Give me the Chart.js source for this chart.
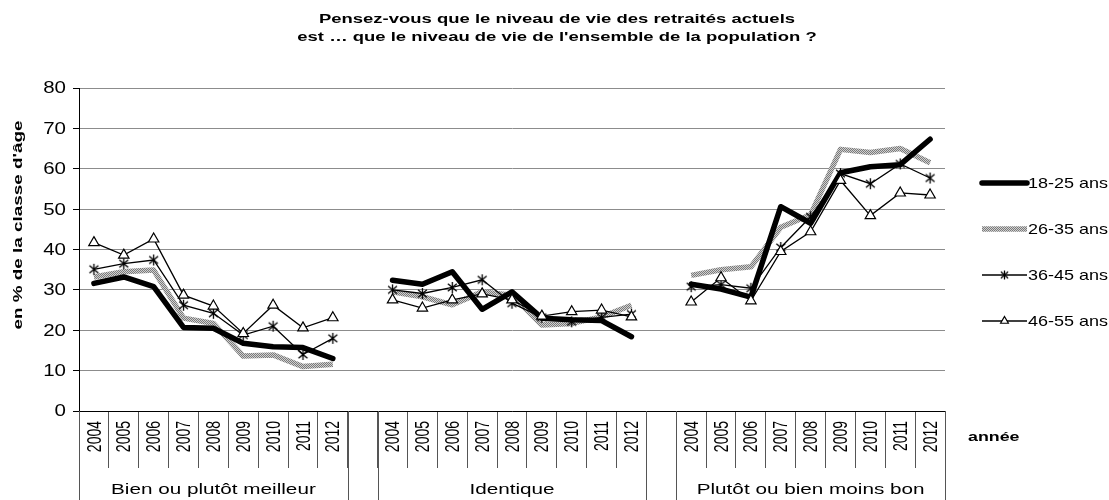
<!DOCTYPE html>
<html>
<head>
<meta charset="utf-8">
<script src="https://cdn.jsdelivr.net/npm/chart.js@4/dist/chart.umd.min.js"></script>
<style>
  html, body { margin: 0; padding: 0; background: #fff; }
  #wrap { width: 1109px; height: 500px; position: relative; }
</style>
</head>
<body>
<div id="wrap"><canvas id="chart"></canvas></div>
<script>
// Données
const years = ['2004', '2005', '2006', '2007', '2008', '2009', '2010', '2011', '2012'];
const groups = ['Bien ou plutôt meilleur', 'Identique', 'Plutôt ou bien moins bon'];
const seriesNames = ['18-25 ans', '26-35 ans', '36-45 ans', '46-55 ans'];

const a1825_meilleur = [31.6, 33.2, 30.8, 20.7, 20.5, 16.8, 15.9, 15.7, 13.0];
const a1825_identique = [32.4, 31.4, 34.5, 25.2, 29.5, 23.0, 22.6, 22.4, 18.4];
const a1825_moins = [31.4, 30.2, 28.2, 50.6, 46.5, 59.0, 60.5, 61.0, 67.3];

const a2635_meilleur = [33.2, 34.5, 34.9, 23.0, 21.7, 13.6, 13.9, 11.0, 11.6];
const a2635_identique = [29.5, 28.3, 26.3, 29.5, 28.7, 21.3, 21.7, 23.3, 26.2];
const a2635_moins = [33.6, 35.0, 35.7, 45.5, 48.6, 64.8, 64.0, 65.0, 61.5];

const a3645_meilleur = [35.1, 36.5, 37.4, 26.2, 24.2, 18.8, 21.0, 14.0, 18.0];
const a3645_identique = [30.0, 29.1, 30.6, 32.5, 26.7, 23.2, 22.1, 23.2, 24.0];
const a3645_moins = [30.8, 31.3, 30.4, 40.5, 48.1, 58.8, 56.3, 61.2, 57.7];

const a4655_meilleur = [41.7, 38.6, 42.6, 28.7, 26.0, 19.2, 26.2, 20.6, 23.1];
const a4655_identique = [27.5, 25.5, 27.5, 29.0, 27.5, 23.5, 24.6, 25.0, 23.3];
const a4655_moins = [27.0, 33.0, 27.3, 39.5, 44.4, 57.1, 48.4, 54.0, 53.5];

const yTicks = [0, 10, 20, 30, 40, 50, 60, 70, 80];

// Catégories : 3 groupes de 9 années séparés par une case vide
const labels = [...years, '', ...years, '', ...years];
function joinGroups(g1, g2, g3) {
  return [...g1, null, ...g2, null, ...g3];
}

// motif gris tramé pour la série 26-35 ans
function makePattern() {
  const c = document.createElement('canvas');
  c.width = 2; c.height = 2;
  const p = c.getContext('2d');
  p.fillStyle = '#d0d0d0';
  p.fillRect(0, 0, 2, 2);
  p.fillStyle = '#7a7a7a';
  p.fillRect(0, 0, 1, 1);
  p.fillRect(1, 1, 1, 1);
  return p.createPattern(c, 'repeat');
}
const greyPattern = makePattern();

// marqueur étoile façon Excel : croix + trait vertical
function makeStar(size) {
  const c = document.createElement('canvas');
  c.width = size; c.height = size;
  const p = c.getContext('2d');
  const m = size / 2, r = size / 2 - 1;
  p.strokeStyle = '#000';
  p.lineWidth = 1.3;
  p.beginPath();
  p.moveTo(m, m - r); p.lineTo(m, m + r);
  p.moveTo(m - r * 0.8, m - r * 0.7); p.lineTo(m + r * 0.8, m + r * 0.7);
  p.moveTo(m + r * 0.8, m - r * 0.7); p.lineTo(m - r * 0.8, m + r * 0.7);
  p.stroke();
  return c;
}
const starMarker = makeStar(13);
const starLegend = makeStar(11);

const FONT = '"Liberation Sans", Arial, sans-serif';

// le texte de l'original est étiré : on le dessine avec une échelle
function drawText(ctx, text, x, y, opts) {
  ctx.save();
  ctx.translate(x, y);
  ctx.scale(opts.sx || 1, opts.sy || 1);
  if (opts.rot) ctx.rotate(opts.rot);
  ctx.font = opts.font;
  ctx.textAlign = opts.align || 'center';
  ctx.textBaseline = opts.baseline || 'middle';
  ctx.fillStyle = '#000';
  ctx.fillText(text, 0, 0);
  ctx.restore();
}

const decor = {
  id: 'decor',
  afterDraw(chart) {
    const ctx = chart.ctx;
    const xs = chart.scales.x;
    const ys = chart.scales.y;
    const area = chart.chartArea;
    const catW = xs.width / labels.length;
    ctx.save();

    // titre
    drawText(ctx, 'Pensez-vous que le niveau de vie des retraités actuels', 557, 19,
      { font: 'bold 13px ' + FONT, sx: 1.42 });
    drawText(ctx, 'est … que le niveau de vie de l\'ensemble de la population ?', 557, 37,
      { font: 'bold 13px ' + FONT, sx: 1.42 });

    // étiquettes de l'axe y
    yTicks.forEach(v => {
      drawText(ctx, String(v), 66, ys.getPixelForValue(v) + 1,
        { font: '16px ' + FONT, sx: 1.28, align: 'right' });
    });
    drawText(ctx, 'en % de la classe d\'âge', 18, 225,
      { font: 'bold 13px ' + FONT, sy: 1.45, rot: -Math.PI / 2 });

    // étiquettes des années (verticales)
    labels.forEach((lab, i) => {
      if (!lab) return;
      drawText(ctx, lab, xs.getPixelForValue(i) + 1, 421,
        { font: '14px ' + FONT, sx: 1.45, rot: -Math.PI / 2, align: 'right' });
    });

    // séparateurs longs des groupes
    ctx.strokeStyle = '#555';
    ctx.lineWidth = 1;
    const bounds = [area.left, area.right];
    [9, 19].forEach(i => {
      const px = xs.getPixelForValue(i);
      bounds.push(px - catW / 2, px + catW / 2);
    });
    bounds.forEach(b => {
      const bx = Math.round(b) + 0.5;
      ctx.beginPath();
      ctx.moveTo(bx, area.bottom);
      ctx.lineTo(bx, chart.height);
      ctx.stroke();
    });

    // libellés des groupes
    groups.forEach((g, k) => {
      const first = xs.getPixelForValue(k * 10);
      const last = xs.getPixelForValue(k * 10 + 8);
      drawText(ctx, g, (first + last) / 2, 490, { font: '15px ' + FONT, sx: 1.38 });
    });

    // titre de l'axe des x
    drawText(ctx, 'année', 968, 437, { font: 'bold 13px ' + FONT, sx: 1.37, align: 'left' });

    // légende
    const legendY = [183, 229, 275, 321];
    const x0 = 982, x1 = 1027;
    chart.data.datasets.forEach((ds, i) => {
      const y = legendY[i];
      ctx.beginPath();
      ctx.moveTo(x0, y);
      ctx.lineTo(x1, y);
      ctx.strokeStyle = ds.borderColor;
      ctx.lineWidth = ds.borderWidth;
      ctx.lineCap = ds.borderCapStyle || 'butt';
      ctx.stroke();
      const mx = (x0 + x1) / 2;
      if (ds.pointStyle === starMarker) {
        ctx.drawImage(starLegend, mx - starLegend.width / 2, y - starLegend.height / 2);
      } else if (ds.pointStyle === 'triangle') {
        ctx.fillStyle = '#fff';
        ctx.strokeStyle = '#000';
        ctx.lineWidth = 1.2;
        Chart.helpers.drawPoint(ctx, {
          pointStyle: 'triangle', radius: 4.5, borderWidth: 1.2, rotation: 0
        }, mx, y);
      }
      drawText(ctx, ds.label, x1 + 1, y + 1, { font: '15px ' + FONT, sx: 1.2, align: 'left' });
    });
    ctx.restore();
  }
};

const ctx = document.getElementById('chart').getContext('2d');
const chart = new Chart(ctx, {
  type: 'line',
  data: {
    labels: labels,
    datasets: [
      {
        label: seriesNames[0],
        data: joinGroups(a1825_meilleur, a1825_identique, a1825_moins),
        borderColor: '#000',
        borderWidth: 5.5,
        borderCapStyle: 'round',
        borderJoinStyle: 'round',
        pointRadius: 0,
        order: 3
      },
      {
        label: seriesNames[1],
        data: joinGroups(a2635_meilleur, a2635_identique, a2635_moins),
        borderColor: greyPattern,
        borderWidth: 5.5,
        borderJoinStyle: 'round',
        pointRadius: 0,
        order: 4
      },
      {
        label: seriesNames[2],
        data: joinGroups(a3645_meilleur, a3645_identique, a3645_moins),
        borderColor: '#000',
        borderWidth: 1.3,
        pointStyle: starMarker,
        pointRadius: 6,
        order: 2
      },
      {
        label: seriesNames[3],
        data: joinGroups(a4655_meilleur, a4655_identique, a4655_moins),
        borderColor: '#000',
        borderWidth: 1.3,
        pointStyle: 'triangle',
        pointRadius: 6,
        pointBorderWidth: 1.2,
        pointBorderColor: '#000',
        pointBackgroundColor: '#fff',
        order: 1
      }
    ]
  },
  options: {
    responsive: true,
    maintainAspectRatio: false,
    animation: false,
    spanGaps: false,
    layout: { padding: { top: 88, right: 164, bottom: 0, left: 6 } },
    plugins: {
      legend: { display: false },
      title: { display: false },
      tooltip: { enabled: false }
    },
    scales: {
      x: {
        type: 'category',
        offset: true,
        grid: {
          offset: true,
          drawOnChartArea: false,
          drawTicks: true,
          tickLength: 57,
          color: '#555',
          lineWidth: 1
        },
        border: { display: true, color: '#000', width: 1 },
        ticks: { display: false, autoSkip: false },
        afterFit(scale) { scale.height = 89; }
      },
      y: {
        min: 0,
        max: 80,
        afterBuildTicks(scale) { scale.ticks = yTicks.map(v => ({ value: v })); },
        grid: {
          color: '#8c8c8c',
          borderDash: [1, 1],
          lineWidth: 1,
          tickLength: 6,
          tickColor: '#000',
          tickBorderDash: []
        },
        border: { display: true, color: '#000', width: 1 },
        ticks: { display: false },
        afterFit(scale) { scale.width = 73; }
      }
    }
  },
  plugins: [decor]
});
</script>
</body>
</html>
